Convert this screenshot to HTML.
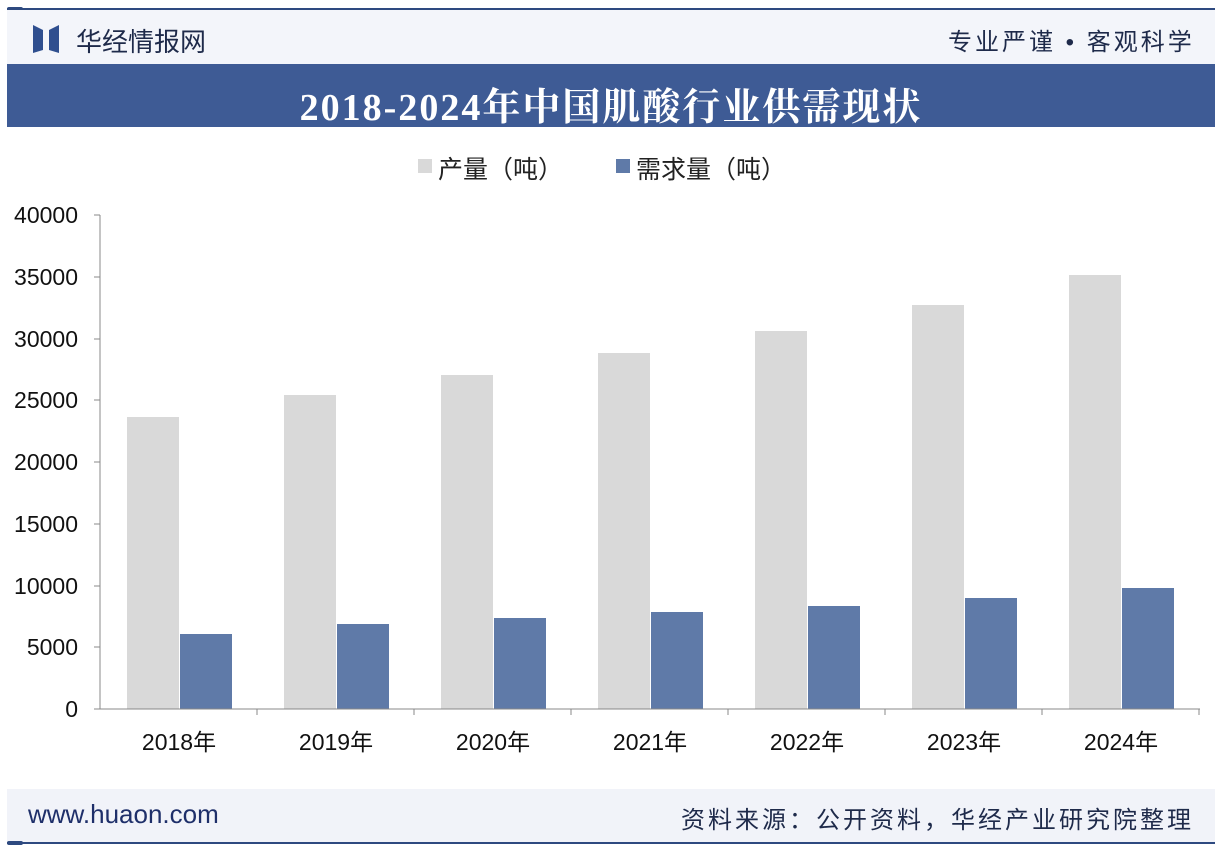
<!DOCTYPE html>
<html><head><meta charset="utf-8"><style>
body{margin:0;width:1222px;height:854px;background:#fff;position:relative;overflow:hidden;font-family:"Liberation Sans","Noto Sans CJK SC",sans-serif}
.a{position:absolute}
</style></head><body>
<div class="a" style="left:7px;top:8px;width:1208px;height:2px;background:#2e4a80"></div>
<div class="a" style="left:7px;top:7px;width:16px;height:4px;border-radius:2px;background:#2e4a80"></div>
<div class="a" style="left:7px;top:10px;width:1208px;height:54px;background:#f3f5fa"></div>
<svg class="a" style="left:33px;top:25px" width="28" height="28"><polygon points="0,0 10,5 10,25 0,28" fill="#2f4f8f"/><polygon points="26,0 16,5 16,25 26,28" fill="#2f4f8f"/></svg>
<div class="a" style="left:76px;top:22px;font-size:26px;color:#1e2a4a">华经情报网</div>
<div class="a" style="left:948px;top:22px;font-size:24px;color:#1e2a4a;letter-spacing:3px">专业严谨 • 客观科学</div>
<div class="a" style="left:7px;top:64px;width:1208px;height:63px;background:#3e5b95"></div>
<div class="a" style="left:0;top:76px;width:1222px;text-align:center;font-family:'Liberation Serif','Noto Serif CJK SC',serif;font-weight:bold;font-size:38px;letter-spacing:2px;color:#fff">2018-2024年中国肌酸行业供需现状</div>
<div class="a" style="left:418px;top:159px;width:14px;height:14px;background:#d9d9d9"></div>
<div class="a" style="left:438px;top:150px;font-size:25px;color:#222">产量（吨）</div>
<div class="a" style="left:616px;top:159px;width:14px;height:14px;background:#5f7aa8"></div>
<div class="a" style="left:636px;top:150px;font-size:25px;color:#222">需求量（吨）</div>
<svg class="a" style="left:0;top:0" width="1222" height="854">
<g font-size="23" fill="#111" text-anchor="end" font-family="Liberation Sans,sans-serif">
<text x="78" y="223">40000</text><text x="78" y="285">35000</text><text x="78" y="347">30000</text><text x="78" y="408">25000</text><text x="78" y="470">20000</text><text x="78" y="532">15000</text><text x="78" y="594">10000</text><text x="78" y="655">5000</text><text x="78" y="717">0</text>
</g>
<line x1="100" y1="215" x2="100" y2="709" stroke="#888"/>
<g stroke="#888"><line x1="94" y1="215" x2="100" y2="215"/><line x1="94" y1="277" x2="100" y2="277"/><line x1="94" y1="339" x2="100" y2="339"/><line x1="94" y1="400" x2="100" y2="400"/><line x1="94" y1="462" x2="100" y2="462"/><line x1="94" y1="524" x2="100" y2="524"/><line x1="94" y1="586" x2="100" y2="586"/><line x1="94" y1="647" x2="100" y2="647"/></g>
<g fill="#d9d9d9">
<rect x="127" y="417" width="52" height="292"/><rect x="284" y="395" width="52" height="314"/><rect x="441" y="375" width="52" height="334"/><rect x="598" y="353" width="52" height="356"/><rect x="755" y="331" width="52" height="378"/><rect x="912" y="305" width="52" height="404"/><rect x="1069" y="275" width="52" height="434"/>
</g>
<g fill="#5f7aa8">
<rect x="180" y="634" width="52" height="75"/><rect x="337" y="624" width="52" height="85"/><rect x="494" y="618" width="52" height="91"/><rect x="651" y="612" width="52" height="97"/><rect x="808" y="606" width="52" height="103"/><rect x="965" y="598" width="52" height="111"/><rect x="1122" y="588" width="52" height="121"/>
</g>
<line x1="94" y1="709" x2="1200" y2="709" stroke="#888"/>
<g stroke="#888"><line x1="257" y1="709" x2="257" y2="715"/><line x1="414" y1="709" x2="414" y2="715"/><line x1="571" y1="709" x2="571" y2="715"/><line x1="728" y1="709" x2="728" y2="715"/><line x1="885" y1="709" x2="885" y2="715"/><line x1="1042" y1="709" x2="1042" y2="715"/><line x1="1199" y1="709" x2="1199" y2="715"/></g>
<g font-size="23" fill="#111" text-anchor="middle" font-family="Liberation Sans,Noto Sans CJK SC,sans-serif">
<text x="179" y="750">2018年</text><text x="336" y="750">2019年</text><text x="493" y="750">2020年</text><text x="650" y="750">2021年</text><text x="807" y="750">2022年</text><text x="964" y="750">2023年</text><text x="1121" y="750">2024年</text>
</g>
</svg>
<div class="a" style="left:7px;top:789px;width:1208px;height:54px;background:#f1f3f9"></div>
<div class="a" style="left:7px;top:842px;width:1208px;height:2px;background:#2e4a80"></div>
<div class="a" style="left:7px;top:841px;width:16px;height:4px;border-radius:2px;background:#2e4a80"></div>
<div class="a" style="left:28px;top:799px;font-size:26px;color:#1e2f6a">www.huaon.com</div>
<div class="a" style="right:28px;top:800px;font-size:24px;color:#1e2a4a;letter-spacing:3px">资料来源：公开资料，华经产业研究院整理</div>
</body></html>
